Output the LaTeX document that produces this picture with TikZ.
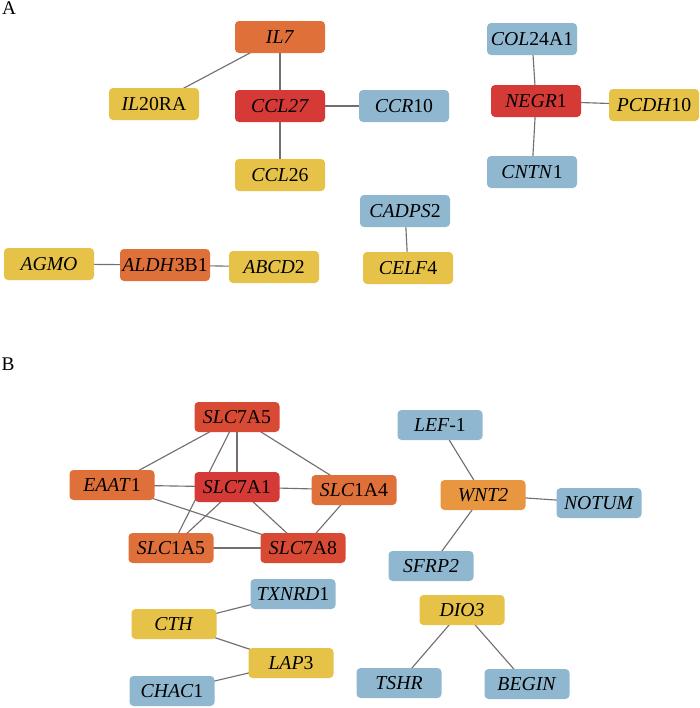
\documentclass[tikz,border=0pt]{standalone}
\usepackage{fontspec}
\setmainfont{Liberation Serif}
\usetikzlibrary{backgrounds}
\definecolor{gy}{RGB}{230,194,72}
\definecolor{go}{RGB}{224,112,58}
\definecolor{gr}{RGB}{214,58,54}
\definecolor{grr}{RGB}{217,74,52}
\definecolor{gw}{RGB}{232,150,63}
\definecolor{gb}{RGB}{143,184,208}
\definecolor{edgec}{RGB}{118,110,110}
\tikzset{
  gene/.style={rounded corners=3pt, inner sep=0pt, minimum width=67.5pt, minimum height=24pt, font=\fontsize{14.8}{16}\selectfont, text=black},
  geneB/.style={gene, minimum width=63.75pt, minimum height=22.5pt},
  link/.style={draw=edgec, line width=0.85pt},
  panel/.style={font=\fontsize{14.5}{16}\selectfont, inner sep=0pt}
}
\begin{document}
\begin{tikzpicture}[x=0.75pt,y=-0.75pt]
\useasboundingbox (0,0) rectangle (700,708);
\node[panel] (labA) at (9,8) {A};
\node[panel] (labB) at (8,364) {B};
% Part A
\node[gene, fill=go] (il7) at (280,37) {\textit{IL7}};
\node[gene, fill=gy] (il20ra) at (154,104) {\textit{IL}20RA};
\node[gene, fill=gr] (ccl27) at (280,106) {\textit{CCL27}};
\node[gene, fill=gb] (ccr10) at (404,106) {\textit{CCR}10};
\node[gene, fill=gy] (ccl26) at (280,175) {\textit{CCL}26};
\node[gene, fill=gb] (col) at (532,39) {\textit{COL}24A1};
\node[gene, fill=gr] (negr) at (536,101) {\textit{NEGR}1};
\node[gene, fill=gy] (pcdh) at (654,105) {\textit{PCDH}10};
\node[gene, fill=gb] (cntn) at (532,172) {\textit{CNTN}1};
\node[gene, fill=gb] (cadps) at (405,211) {\textit{CADPS}2};
\node[gene, fill=gy] (celf) at (408,268) {\textit{CELF}4};
\node[gene, fill=gy] (agmo) at (49,264) {\textit{AGMO}};
\node[gene, fill=go] (aldh) at (165,265) {\textit{ALDH}3B1};
\node[gene, fill=gy] (abcd) at (274,267) {\textit{ABCD}2};
% Part B
\node[geneB, fill=grr] (s7a5) at (237,417) {\textit{SLC}7A5};
\node[geneB, fill=go] (eaat) at (112,485) {\textit{EAAT}1};
\node[geneB, fill=gr] (s7a1) at (237,487) {\textit{SLC}7A1};
\node[geneB, fill=go] (s1a4) at (354,490) {\textit{SLC}1A4};
\node[geneB, fill=go] (s1a5) at (171,548) {\textit{SLC}1A5};
\node[geneB, fill=grr] (s7a8) at (303,548) {\textit{SLC}7A8};
\node[geneB, fill=gb] (txnrd) at (293,594) {\textit{TXNRD}1};
\node[geneB, fill=gy] (cth) at (174,624) {\textit{CTH}};
\node[geneB, fill=gy] (lap) at (291,663) {\textit{LAP}3};
\node[geneB, fill=gb] (chac) at (172,691) {\textit{CHAC}1};
\node[geneB, fill=gb] (lef) at (440,425) {\textit{LEF}-1};
\node[geneB, fill=gw] (wnt) at (483,495) {\textit{WNT2}};
\node[geneB, fill=gb] (notum) at (599,503) {\textit{NOTUM}};
\node[geneB, fill=gb] (sfrp) at (431,566) {\textit{SFRP2}};
\node[geneB, fill=gy] (dio) at (462,610) {\textit{DIO3}};
\node[geneB, fill=gb] (tshr) at (399,683) {\textit{TSHR}};
\node[geneB, fill=gb] (begin) at (527,684) {\textit{BEGIN}};
\begin{pgfonlayer}{background}
\foreach \a/\b in {il7/il20ra, il7/ccl27, ccl27/ccr10, ccl27/ccl26,
  col/negr, negr/pcdh, negr/cntn, cadps/celf, agmo/aldh, aldh/abcd,
  s7a5/eaat, s7a5/s7a1, s7a5/s1a5, s7a5/s1a4, eaat/s7a1, eaat/s7a8,
  s7a1/s1a4, s7a1/s1a5, s7a1/s7a8, s1a4/s7a8, s1a5/s7a8,
  cth/txnrd, cth/lap, lap/chac, lef/wnt, wnt/notum, wnt/sfrp,
  dio/tshr, dio/begin}
  \draw[link] (\a.center) -- (\b.center);
\end{pgfonlayer}
\end{tikzpicture}
\end{document}
